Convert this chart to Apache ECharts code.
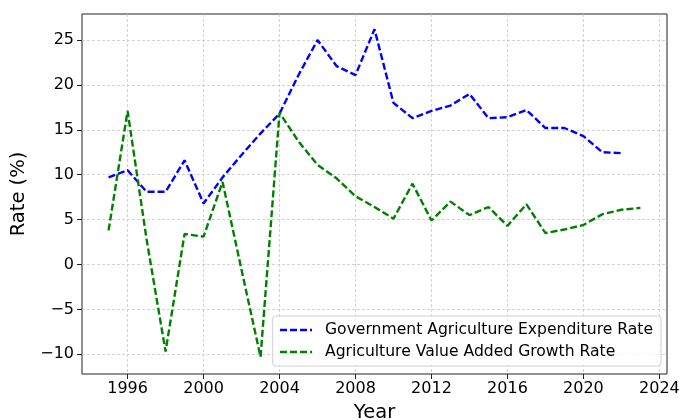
<!DOCTYPE html>
<html lang="en">
<head>
    <meta charset="UTF-8">
    <title>Rate chart</title>
    <script src="https://cdn.jsdelivr.net/npm/echarts@6/dist/echarts.min.js"></script>
</head>
<body style="margin:0;">
    <div id="main" style="width:681px;height:420px;"></div>
    <script type="text/javascript">
        // values
        var govYears = [1995,1996,1997,1998,1999,2000,2001,2002,2003,2004,2005,2006,2007,2008,2009,2010,2011,2012,2013,2014,2015,2016,2017,2018,2019,2020,2021,2022];
        var govRate = [9.7,10.5,8.1,8.1,11.6,6.8,9.7,12.2,14.6,16.8,21.1,25.0,22.1,21.1,26.2,18.0,16.3,17.1,17.7,19.0,16.3,16.4,17.2,15.2,15.2,14.3,12.5,12.4];
        var agrYears = [1995,1996,1997,1998,1999,2000,2001,2002,2003,2004,2005,2006,2007,2008,2009,2010,2011,2012,2013,2014,2015,2016,2017,2018,2019,2020,2021,2022,2023];
        var agrRate = [3.8,17.1,2.8,-9.7,3.4,3.1,9.2,-0.6,-10.3,16.9,13.7,11.1,9.6,7.6,6.4,5.1,9.0,4.9,7.0,5.5,6.4,4.3,6.7,3.5,3.9,4.4,5.6,6.1,6.3];
        var xTicks = [1996,2000,2004,2008,2012,2016,2020,2024];
        var yTicks = [-10,-5,0,5,10,15,20,25];

        function pairs(xs, ys) {
            var out = [];
            for (var i = 0; i < xs.length; i++) out.push([xs[i], ys[i]]);
            return out;
        }

        var chart = echarts.init(document.getElementById('main'));
        var font = 'DejaVu Sans';
        var gridLine = {show: true, lineStyle: {color: '#c8c8c8', type: [3, 2], width: 0.8}};
        var dash = [7, 3];
        var option = {
            backgroundColor: '#fff',
            animation: false,
            textStyle: {fontFamily: font},
            grid: {
                left: 82, right: 14, top: 14, bottom: 46,
                outerBoundsMode: 'none',
                containLabel: false,
                show: true, borderColor: '#222', borderWidth: 1, backgroundColor: 'transparent'
            },
            legend: {
                orient: 'vertical',
                right: 20,
                bottom: 54,
                padding: [6, 8, 6, 6],
                itemGap: 6,
                itemWidth: 32,
                itemHeight: 14,
                borderColor: '#d0d0d0',
                borderWidth: 1,
                borderRadius: 3,
                backgroundColor: 'rgba(255,255,255,0.8)',
                itemStyle: {opacity: 0},
                lineStyle: {width: 2.6},
                textStyle: {fontFamily: font, fontSize: 15.6, color: '#000', padding: [0, 0, 0, 8]},
                data: ['Government Agriculture Expenditure Rate', 'Agriculture Value Added Growth Rate']
            },
            xAxis: {
                type: 'value',
                min: 1993.6,
                max: 2024.4,
                name: 'Year',
                nameLocation: 'middle',
                nameGap: 29,
                nameTextStyle: {fontFamily: font, fontSize: 19.5, color: '#000'},
                axisLine: {show: false, onZero: false},
                axisTick: {show: true, length: 5, customValues: xTicks, lineStyle: {color: '#222'}},
                axisLabel: {
                    customValues: xTicks, fontFamily: font, fontSize: 16, color: '#000', margin: 7,
                    formatter: function (v) { return String(v); }
                },
                splitLine: gridLine
            },
            yAxis: {
                type: 'value',
                min: -12.2,
                max: 27.9,
                name: 'Rate (%)',
                nameLocation: 'middle',
                nameRotate: 90,
                nameGap: 52,
                nameTextStyle: {fontFamily: font, fontSize: 19.5, color: '#000'},
                axisLine: {show: false, onZero: false},
                axisTick: {show: true, length: 5, customValues: yTicks, lineStyle: {color: '#222'}},
                axisLabel: {
                    customValues: yTicks, fontFamily: font, fontSize: 16, color: '#000', margin: 8,
                    formatter: function (v) { return String(v).replace('-', '\u2212'); }
                },
                splitLine: gridLine
            },
            series: [
                {
                    name: 'Government Agriculture Expenditure Rate',
                    type: 'line',
                    symbol: 'none',
                    color: '#0000ff',
                    lineStyle: {color: '#0000ff', width: 2.4, type: dash},
                    data: pairs(govYears, govRate)
                },
                {
                    name: 'Agriculture Value Added Growth Rate',
                    type: 'line',
                    symbol: 'none',
                    color: '#008000',
                    lineStyle: {color: '#008000', width: 2.4, type: dash},
                    data: pairs(agrYears, agrRate)
                }
            ]
        };
        chart.setOption(option);
    </script>
</body>
</html>
